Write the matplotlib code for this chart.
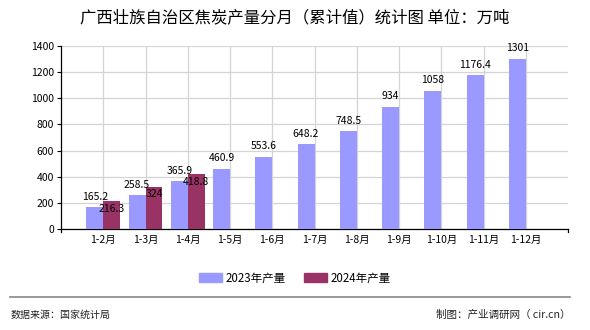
import numpy as np
import matplotlib
matplotlib.use("Agg")
import matplotlib.pyplot as plt
from matplotlib.patches import Patch

plt.rcParams['font.family'] = ['Noto Sans CJK SC', 'DejaVu Sans']

# 广西焦炭产量累计值（万吨）
months = ["1-2月", "1-3月", "1-4月", "1-5月", "1-6月", "1-7月",
          "1-8月", "1-9月", "1-10月", "1-11月", "1-12月"]
v2023 = [165.2, 258.5, 365.9, 460.9, 553.6, 648.2, 748.5, 934, 1058, 1176.4, 1301]
v2024 = [216.3, 324, 418.8]
lbl2023 = ["165.2", "258.5", "365.9", "460.9", "553.6", "648.2", "748.5",
           "934", "1058", "1176.4", "1301"]
lbl2024 = ["216.3", "324", "418.8"]

c23 = "#9999FF"
c24 = "#993366"

fig = plt.figure(figsize=(5.9, 3.3), dpi=100)
ax = fig.add_axes([61 / 590, 1 - 229 / 330, 507 / 590, 183 / 330])

x = np.arange(len(months))
w = 0.4
ax.bar(x - w / 2, v2023, width=w, color=c23, zorder=3)
ax.bar(x[:len(v2024)] + w / 2, v2024, width=w, color=c24, zorder=3)

for xi, v, s in zip(x, v2023, lbl2023):
    ax.annotate(s, (xi - w / 2, v), xytext=(0, 4), textcoords="offset points",
                ha="center", va="bottom", fontsize=7.5, zorder=5)
for xi, v, s in zip(x, v2024, lbl2024):
    ax.annotate(s, (xi + w / 2, v), xytext=(0, -2), textcoords="offset points",
                ha="center", va="top", fontsize=7.5, zorder=5)

ax.set_xlim(-1, len(months))
ax.set_ylim(0, 1400)
ax.set_yticks(range(0, 1401, 200))
ax.set_xticks(x)
ax.set_xticklabels(months, fontsize=7.5)
ax.tick_params(axis="y", labelsize=7.5, length=3, pad=2)
ax.tick_params(axis="x", length=0, pad=4)
ax.grid(True, color="#d4d4d4", linewidth=0.9, zorder=0)
for side in ["top", "right"]:
    ax.spines[side].set_visible(False)
ax.spines["left"].set_linewidth(0.9)
ax.spines["bottom"].set_linewidth(0.9)
# 底部两端的小刻度
for xe in (-1, len(months)):
    ax.plot([xe, xe], [0, -25], color="black", lw=0.9, clip_on=False)

fig.text(0.5, 1 - 18 / 330, "广西壮族自治区焦炭产量分月（累计值）统计图 单位：万吨",
         ha="center", va="center", fontsize=11.8)

handles = [Patch(color=c23, label="2023年产量"), Patch(color=c24, label="2024年产量")]
fig.legend(handles=handles, loc="center", bbox_to_anchor=(0.5, 1 - 278 / 330),
           ncol=2, frameon=False, fontsize=8.3, handlelength=2.0, handleheight=0.9,
           columnspacing=1.6, handletextpad=0.3)

fig.add_artist(plt.Line2D([10 / 590, 570 / 590], [1 - 297 / 330, 1 - 297 / 330],
                          color="#888888", lw=1.2))
fig.text(11 / 590, 1 - 315 / 330, "数据来源：国家统计局", ha="left", va="center",
         fontsize=7.2, color="#222222")
fig.text(570 / 590, 1 - 315 / 330, "制图：产业调研网（ cir.cn）", ha="right", va="center",
         fontsize=7.6, color="#222222")

fig.savefig("out.png", dpi=100)
